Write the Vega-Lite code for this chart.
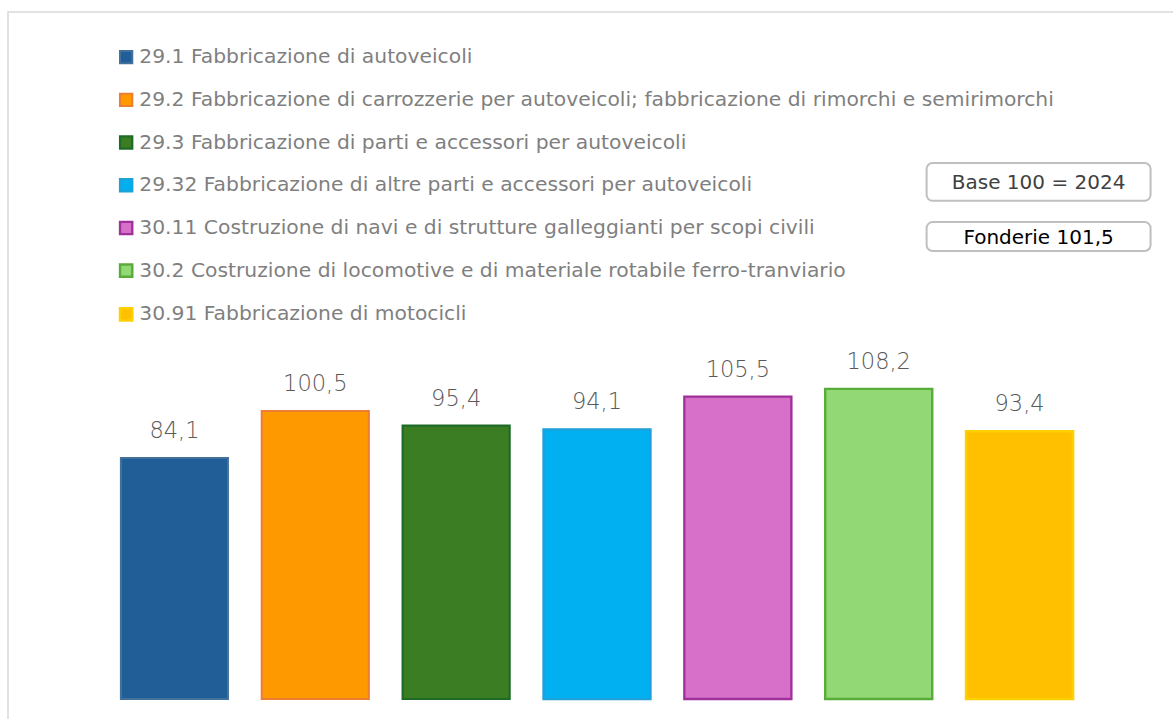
{
  "$schema": "https://vega.github.io/schema/vega-lite/v6.json",
  "width": 1170,
  "height": 710,
  "autosize": "none",
  "padding": {"left": 8, "top": 12, "right": 0, "bottom": 0},
  "background": "white",
  "config": {
    "view": {"stroke": "#d9d9d9", "strokeWidth": 1.5},
    "font": "DejaVu Sans"
  },
  "datasets": {
    "bars": [
      {"categoria": "29.1 Fabbricazione di autoveicoli", "valore": 84.1, "etichetta": "84,1"},
      {"categoria": "29.2 Fabbricazione di carrozzerie per autoveicoli; fabbricazione di rimorchi e semirimorchi", "valore": 100.5, "etichetta": "100,5"},
      {"categoria": "29.3 Fabbricazione di parti e accessori per autoveicoli", "valore": 95.4, "etichetta": "95,4"},
      {"categoria": "29.32 Fabbricazione di altre parti e accessori per autoveicoli", "valore": 94.1, "etichetta": "94,1"},
      {"categoria": "30.11 Costruzione di navi e di strutture galleggianti per scopi civili", "valore": 105.5, "etichetta": "105,5"},
      {"categoria": "30.2 Costruzione di locomotive e di materiale rotabile ferro-tranviario", "valore": 108.2, "etichetta": "108,2"},
      {"categoria": "30.91 Fabbricazione di motocicli", "valore": 93.4, "etichetta": "93,4"}
    ],
    "boxes": [
      {"testo": "Base 100 = 2024", "x1": 5.84, "x2": 7.43, "y1": 173.8, "y2": 187.0, "yc": 180.4, "colore": "dark"},
      {"testo": "Fonderie 101,5", "x1": 5.84, "x2": 7.43, "y1": 156.3, "y2": 166.4, "yc": 161.35, "colore": "black"}
    ]
  },
  "layer": [
    {
      "data": {"name": "bars"},
      "layer": [
        {
          "mark": {"type": "bar"},
          "encoding": {
            "x": {
              "field": "categoria", "type": "nominal", "sort": null,
              "scale": {"range": [96, 1082], "paddingInner": 0.24, "paddingOuter": 0.12},
              "axis": null
            },
            "y": {
              "field": "valore", "type": "quantitative",
              "scale": {"domain": [0, 239.7], "range": [687, 0], "nice": false, "zero": true},
              "axis": null
            },
            "fill": {
              "field": "categoria", "type": "nominal", "sort": null,
              "scale": {"range": ["#215e98", "#ff9900", "#3b7d23", "#00b0f0", "#d670c8", "#92d975", "#ffc000"]},
              "legend": {
                "orient": "none", "legendX": 108, "legendY": 35,
                "title": null, "direction": "vertical",
                "symbolType": "square", "symbolSize": 150, "symbolStrokeWidth": 2,
                "labelFont": "DejaVu Sans", "labelFontSize": 20.3, "labelColor": "#7f7f7f",
                "labelLimit": 1100, "labelOffset": 3, "rowPadding": 20.7
              }
            },
            "stroke": {
              "field": "categoria", "type": "nominal", "sort": null,
              "scale": {"range": ["#41719c", "#ed7d31", "#1e6b28", "#1ea0d8", "#a0309a", "#5aac3a", "#ffd000"]}
            },
            "strokeWidth": {
              "field": "categoria", "type": "nominal", "sort": null,
              "scale": {"range": [2, 2.5, 2.5, 4, 2.5, 2.5, 5]},
              "legend": null
            }
          }
        },
        {
          "mark": {"type": "text", "baseline": "bottom", "dy": -15, "fontSize": 22.5, "color": "#595959", "font": "DejaVu Sans", "fontWeight": 300},
          "encoding": {
            "x": {"field": "categoria", "type": "nominal", "sort": null},
            "y": {"field": "valore", "type": "quantitative"},
            "text": {"field": "etichetta"}
          }
        }
      ]
    },
    {
      "data": {"name": "boxes"},
      "layer": [
        {
          "mark": {"type": "rect", "fill": "white", "stroke": "#bfbfbf", "strokeWidth": 2, "cornerRadius": 6},
          "encoding": {
            "x": {"field": "x1", "type": "quantitative", "scale": {"domain": [0, 7], "range": [96, 1082], "nice": false, "zero": false}, "axis": null},
            "x2": {"field": "x2"},
            "y": {"field": "y1", "type": "quantitative"},
            "y2": {"field": "y2"}
          }
        },
        {
          "mark": {"type": "text", "fontSize": 20, "font": "DejaVu Sans", "baseline": "middle", "dy": 1},
          "encoding": {
            "x": {"datum": 6.635, "type": "quantitative"},
            "y": {"field": "yc", "type": "quantitative"},
            "text": {"field": "testo"},
            "color": {"field": "colore", "type": "nominal", "scale": {"domain": ["dark", "black"], "range": ["#404040", "#000000"]}, "legend": null}
          }
        }
      ]
    }
  ],
  "resolve": {"scale": {"x": "independent", "color": "independent"}}
}
